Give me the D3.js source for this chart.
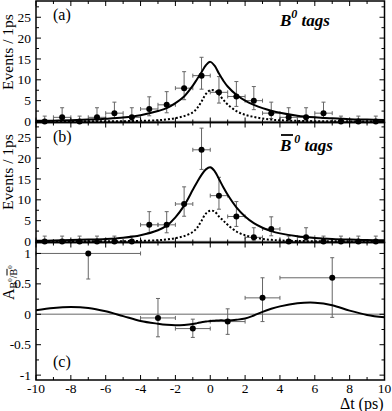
<!DOCTYPE html>
<html>
<head>
<meta charset="utf-8">
<script src="https://cdn.jsdelivr.net/npm/d3@7"></script>
<style>
body { margin: 0; background: #fff; }
svg text { font-family: "Liberation Serif", "Times New Roman", serif; fill: #000; }
</style>
</head>
<body>
<div id="chart"></div>
<script>
// ---- data ----
// 1 ps bins of the two tagged Δt distributions
var binCenters = [-9.5, -8.5, -7.5, -6.5, -5.5, -4.5, -3.5, -2.5, -1.5, -0.5,
                  0.5, 1.5, 2.5, 3.5, 4.5, 5.5, 6.5, 7.5, 8.5, 9.5];
var b0Counts    = [0, 1, 0, 1, 2, 1, 3, 4, 8, 11, 7, 6, 5, 2, 1, 1, 2, 0, 0, 0];
var b0barCounts = [0, 0, 0, 0, 0, 0, 4, 4, 9, 22, 11, 6, 1, 3, 0, 1, 0, 0, 0, 0];

// 68% Poisson interval drawn for a given count
var poissonCounts = [0, 1, 2, 3, 4, 5, 6, 7, 8, 9, 11, 22];
var poissonLow    = [0, 0.17, 0.71, 1.37, 2.09, 2.84, 3.62, 4.42, 5.23, 6.06, 7.75, 17.3];
var poissonHigh   = [1.29, 3.30, 4.64, 5.92, 7.16, 8.38, 9.58, 10.77, 11.95, 13.11, 15.4, 27.2];

// asymmetry points (c)
var asymCenters = [-7, -3, -1, 1, 3, 7];
var asymHalfWidth = [3, 1, 1, 1, 1, 3];
var asymValues = [1.0, -0.06, -0.235, -0.12, 0.27, 0.6];
var asymLow  = [0.58, -0.37, -0.38, -0.33, -0.12, -0.05];
var asymHigh = [1.0, 0.26, -0.08, 0.09, 0.6, 0.93];

// fitted curves, sampled off the figure
var curveT = [-10, -9, -8, -7, -6, -5, -4, -3, -2.5, -2, -1.5, -1, -0.75, -0.5, -0.25, 0,
              0.25, 0.5, 0.75, 1, 1.5, 2, 2.5, 3, 3.5, 4, 5, 6, 7, 8, 9, 10];
var b0Fit = [0.15, 0.2, 0.3, 0.45, 0.65, 0.95, 1.5, 2.5, 3.2, 4.4, 6.0, 8.6, 10.2, 11.8, 13.5, 14.3,
             13.4, 11.5, 9.8, 8.4, 6.4, 5.0, 4.0, 3.2, 2.6, 2.1, 1.4, 1.0, 0.75, 0.55, 0.45, 0.35];
var b0Bkg = [0.02, 0.02, 0.03, 0.04, 0.05, 0.08, 0.15, 0.3, 0.5, 0.8, 1.3, 2.2, 3.2, 4.8, 6.6, 7.5,
             7.4, 6.5, 5.2, 4.1, 2.5, 1.6, 1.1, 0.7, 0.45, 0.3, 0.15, 0.08, 0.05, 0.03, 0.02, 0.02];
var b0barFit = [0.15, 0.25, 0.35, 0.45, 0.6, 0.9, 1.5, 2.7, 3.8, 5.8, 8.6, 12.4, 14.3, 16.0, 17.3, 17.8,
                16.9, 15.0, 13.0, 11.2, 8.2, 6.0, 4.4, 3.3, 2.5, 1.95, 1.25, 0.85, 0.6, 0.45, 0.35, 0.3];
var b0barBkg = [0.02, 0.02, 0.03, 0.04, 0.05, 0.08, 0.15, 0.3, 0.5, 0.8, 1.3, 2.3, 3.3, 5.0, 6.7, 7.4,
                7.2, 6.0, 5.0, 4.0, 2.4, 1.5, 1.0, 0.6, 0.4, 0.25, 0.12, 0.07, 0.05, 0.03, 0.02, 0.02];
var asymFit = [0.066, 0.105, 0.12, 0.105, 0.05, -0.03, -0.11, -0.155, -0.172, -0.18, -0.175, -0.16,
               -0.145, -0.13, -0.12, -0.11, -0.105, -0.1, -0.1, -0.1, -0.09, -0.07, -0.02, 0.04,
               0.09, 0.13, 0.18, 0.19, 0.15, 0.06, -0.01, -0.05];

// axis ticks
var timeTicks = [-10, -8, -6, -4, -2, 0, 2, 4, 6, 8, 10];
var countTicks = [0, 5, 10, 15, 20, 25];
var asymTicks = [-1, -0.5, 0, 0.5, 1];

// ---- drawing ----
var width = 392, height = 411;
var svg = d3.select("#chart").append("svg")
    .attr("width", width).attr("height", height);

var x = d3.scaleLinear().domain([-10, 10]).range([36, 384.5]);

function poisson(n) {
  var i = poissonCounts.indexOf(n);
  return [poissonLow[i], poissonHigh[i]];
}

function countPanel(top, bottom, domain, counts, fit, bkg) {
  var y = d3.scaleLinear().domain(domain).range([bottom, top]);
  var g = svg.append("g");

  g.append("line")
    .attr("x1", x(-10)).attr("x2", x(10))
    .attr("y1", y(0)).attr("y2", y(0))
    .attr("stroke", "#999").attr("stroke-width", 1.5);

  var rows = binCenters.map(function(t, i) {
    var e = poisson(counts[i]);
    return {t: t, n: counts[i], lo: e[0], hi: e[1]};
  });
  drawErrors(g, rows, y, function() { return 0.5; });

  var line = d3.line().curve(d3.curveCatmullRom)
    .x(function(d) { return x(d[0]); })
    .y(function(d) { return y(d[1]); });

  g.append("path").datum(d3.zip(curveT, bkg))
    .attr("d", line).attr("fill", "none")
    .attr("stroke", "#000").attr("stroke-width", 2)
    .attr("stroke-dasharray", "2,2");
  g.append("path").datum(d3.zip(curveT, fit))
    .attr("d", line).attr("fill", "none")
    .attr("stroke", "#000").attr("stroke-width", 2);

  g.selectAll(".pt").data(rows).enter().append("circle")
    .attr("cx", function(d) { return x(d.t); })
    .attr("cy", function(d) { return y(d.n); })
    .attr("r", 3).attr("fill", "#000");

  frame(g, y, top, bottom, countTicks, 2.5);
  return y;
}

function drawErrors(g, rows, y, half) {
  var c = 2;
  rows.forEach(function(d, i) {
    var h = half(d, i);
    var eg = g.append("g").attr("stroke", "#666").attr("stroke-width", 1);
    eg.append("line")
      .attr("x1", x(d.t - h)).attr("x2", x(d.t + h))
      .attr("y1", y(d.n)).attr("y2", y(d.n));
    eg.append("line")
      .attr("x1", x(d.t - h)).attr("x2", x(d.t - h))
      .attr("y1", y(d.n) - c).attr("y2", y(d.n) + c);
    eg.append("line")
      .attr("x1", x(d.t + h)).attr("x2", x(d.t + h))
      .attr("y1", y(d.n) - c).attr("y2", y(d.n) + c);
    eg.append("line")
      .attr("x1", x(d.t)).attr("x2", x(d.t))
      .attr("y1", y(d.lo)).attr("y2", y(d.hi));
    eg.append("line")
      .attr("x1", x(d.t) - c).attr("x2", x(d.t) + c)
      .attr("y1", y(d.lo)).attr("y2", y(d.lo));
    eg.append("line")
      .attr("x1", x(d.t) - c).attr("x2", x(d.t) + c)
      .attr("y1", y(d.hi)).attr("y2", y(d.hi));
  });
}

function frame(g, y, top, bottom, yTicks, yMinorStep) {
  var x0 = x(-10), x1 = x(10);
  var tk = g.append("g").attr("stroke", "#000").attr("stroke-width", 1);
  x.ticks(20).forEach(function(t) {
    var len = (t % 2 === 0) ? 5 : 3;
    tk.append("line").attr("x1", x(t)).attr("x2", x(t)).attr("y1", bottom).attr("y2", bottom - len);
    tk.append("line").attr("x1", x(t)).attr("x2", x(t)).attr("y1", top).attr("y2", top + len);
  });
  var lo = y.domain()[0], hi = y.domain()[1];
  d3.range(Math.ceil(lo / yMinorStep) * yMinorStep, hi, yMinorStep).forEach(function(v) {
    var major = yTicks.some(function(m) { return Math.abs(m - v) < 1e-6; });
    var len = major ? 5 : 3;
    tk.append("line").attr("x1", x0).attr("x2", x0 + len).attr("y1", y(v)).attr("y2", y(v));
    tk.append("line").attr("x1", x1).attr("x2", x1 - len).attr("y1", y(v)).attr("y2", y(v));
  });
  g.append("rect")
    .attr("x", x0).attr("y", top)
    .attr("width", x1 - x0).attr("height", bottom - top)
    .attr("fill", "none").attr("stroke", "#000").attr("stroke-width", 1.5);

  g.selectAll(".ylab").data(yTicks).enter().append("text")
    .attr("x", 31).attr("y", function(d) { return y(d); })
    .attr("dy", "0.34em").attr("text-anchor", "end")
    .attr("font-size", 13.5)
    .text(function(d) { return d; });
}

var yA = countPanel(1, 122.5, [-0.24, 28.9], b0Counts, b0Fit, b0Bkg);
var yB = countPanel(122.5, 242.5, [-0.24, 28.55], b0barCounts, b0barFit, b0barBkg);

// asymmetry panel
var yC = d3.scaleLinear().domain([-1.08, 1.18]).range([380, 242.5]);
var gc = svg.append("g");
gc.append("line")
  .attr("x1", x(-10)).attr("x2", x(10))
  .attr("y1", yC(0)).attr("y2", yC(0))
  .attr("stroke", "#999").attr("stroke-width", 1.5);
var asymRows = asymCenters.map(function(t, i) {
  return {t: t, n: asymValues[i], lo: asymLow[i], hi: asymHigh[i]};
});
drawErrors(gc, asymRows, yC, function(d, i) { return asymHalfWidth[i]; });
gc.append("path").datum(d3.zip(curveT, asymFit))
  .attr("d", d3.line().curve(d3.curveCatmullRom)
    .x(function(d) { return x(d[0]); })
    .y(function(d) { return yC(d[1]); }))
  .attr("fill", "none").attr("stroke", "#000").attr("stroke-width", 2);
gc.selectAll(".pt").data(asymRows).enter().append("circle")
  .attr("cx", function(d) { return x(d.t); })
  .attr("cy", function(d) { return yC(d.n); })
  .attr("r", 3).attr("fill", "#000");
frame(gc, yC, 242.5, 380, asymTicks, 0.25);

// x tick labels
svg.selectAll(".xlab").data(timeTicks).enter().append("text")
  .attr("x", function(d) { return x(d); })
  .attr("y", 392.5).attr("text-anchor", "middle")
  .attr("font-size", 13.5)
  .text(function(d) { return d; });

svg.append("text").attr("x", 383.5).attr("y", 408.5)
  .attr("text-anchor", "end").attr("font-size", 16)
  .text("\u0394t (ps)");

// y titles
[52, 172].forEach(function(cy) {
  svg.append("text")
    .attr("transform", "translate(13," + cy + ") rotate(-90)")
    .attr("text-anchor", "middle").attr("font-size", 15.5)
    .text("Events / 1ps");
});
var at = svg.append("text")
  .attr("transform", "translate(13.5,300) rotate(-90)")
  .attr("font-size", 16);
at.append("tspan").text("A");
at.append("tspan").attr("font-size", 10).attr("dy", 3).text("B");
at.append("tspan").attr("font-size", 7).attr("dy", -5).text("0");
at.append("tspan").attr("font-size", 10).attr("dy", 5).text("/");
at.append("tspan").attr("font-size", 10).style("text-decoration", "overline").text("B");
at.append("tspan").attr("font-size", 7).attr("dy", -5).text("0");

// panel letters
[["(a)", 20], ["(b)", 142], ["(c)", 367]].forEach(function(p) {
  svg.append("text").attr("x", 53).attr("y", p[1])
    .attr("font-size", 16).text(p[0]);
});

// tag labels
function tagLabel(yPos, bar) {
  var t = svg.append("text").attr("x", 280).attr("y", yPos)
    .attr("font-size", 17).attr("font-weight", "bold").attr("font-style", "italic");
  t.append("tspan").text("B");
  t.append("tspan").attr("font-size", 12).attr("dy", -8).text(bar ? " 0" : "0");
  t.append("tspan").attr("dy", 8).text(" tags");
  if (bar) {
    svg.append("line").attr("x1", 281).attr("x2", 293)
      .attr("y1", yPos - 16).attr("y2", yPos - 16)
      .attr("stroke", "#000").attr("stroke-width", 1.8);
  }
}
tagLabel(26, false);
tagLabel(151, true);
</script>
</body>
</html>
